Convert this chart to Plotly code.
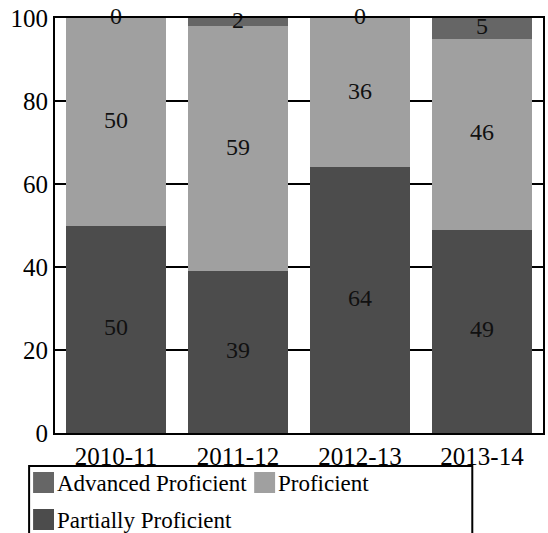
import plotly.graph_objects as go

years = ["2010-11", "2011-12", "2012-13", "2013-14"]
partially = [50, 39, 64, 49]
proficient = [50, 59, 36, 46]
advanced = [0, 2, 0, 5]

series_names = ["Partially Proficient", "Proficient", "Advanced Proficient"]
series_vals = [partially, proficient, advanced]
series_colors = ["#4c4c4c", "#a0a0a0", "#666666"]

W, H = 548, 533
ML, MR, MT, MB = 55, 3, 18, 100
PW, PH = W - ML - MR, H - MT - MB

def px_x(px):
    return (px - ML) / PW

def px_y(py):
    return (H - MB - py) / PH

FONT = "Liberation Serif, Times New Roman, serif"

fig = go.Figure()
for name, vals, col in zip(series_names, series_vals, series_colors):
    fig.add_trace(go.Bar(x=years, y=vals, name=name, marker=dict(color=col, line=dict(width=0)),
                         showlegend=False, hoverinfo="x+y+name"))

# segment labels at the middle of each segment
lab_x, lab_y, lab_t = [], [], []
base = [0] * len(years)
for vals in series_vals:
    for i, v in enumerate(vals):
        lab_x.append(years[i])
        lab_y.append(base[i] + v / 2)
        lab_t.append(str(v))
        base[i] += v
fig.add_trace(go.Scatter(x=lab_x, y=lab_y, text=lab_t, mode="text",
                         textfont=dict(family=FONT, size=24, color="#111111"),
                         showlegend=False, hoverinfo="skip", cliponaxis=False))

# manual legend
shapes = [dict(type="rect", xref="paper", yref="paper",
               x0=px_x(29), x1=px_x(474), y0=px_y(466), y1=px_y(545),
               line=dict(color="black", width=2), fillcolor="rgba(0,0,0,0)")]
annotations = []
legend_order = [("Advanced Proficient", 33, 482), ("Proficient", 255, 482), ("Partially Proficient", 33, 519)]
color_of = dict(zip(series_names, series_colors))
for name, lx, cy in legend_order:
    shapes.append(dict(type="rect", xref="paper", yref="paper",
                       x0=px_x(lx), x1=px_x(lx + 21), y0=px_y(cy - 10), y1=px_y(cy + 11),
                       line=dict(width=0), fillcolor=color_of[name]))
    annotations.append(dict(text=name, xref="paper", yref="paper", x=px_x(lx + 22), y=px_y(cy + 1),
                            xanchor="left", yanchor="middle", showarrow=False,
                            font=dict(family=FONT, size=23, color="black")))

fig.update_layout(
    width=W, height=H,
    margin=dict(l=ML, r=MR, t=MT, b=MB),
    barmode="stack", bargap=0.18,
    plot_bgcolor="white", paper_bgcolor="white",
    font=dict(family=FONT, size=23, color="black"),
    shapes=shapes, annotations=annotations,
    showlegend=False,
)
fig.update_xaxes(type="category", showline=True, linecolor="black", linewidth=2, mirror=True,
                 ticks="", tickfont=dict(family=FONT, size=25, color="black"), ticklabelstandoff=0)
fig.update_yaxes(range=[0, 100], tickvals=[0, 20, 40, 60, 80, 100],
                 showline=True, linecolor="black", linewidth=2, mirror=True,
                 showgrid=True, gridcolor="black", gridwidth=2, zeroline=False,
                 ticks="", tickfont=dict(family=FONT, size=25, color="black"), ticklabelstandoff=0)

fig.write_html("out.html")
